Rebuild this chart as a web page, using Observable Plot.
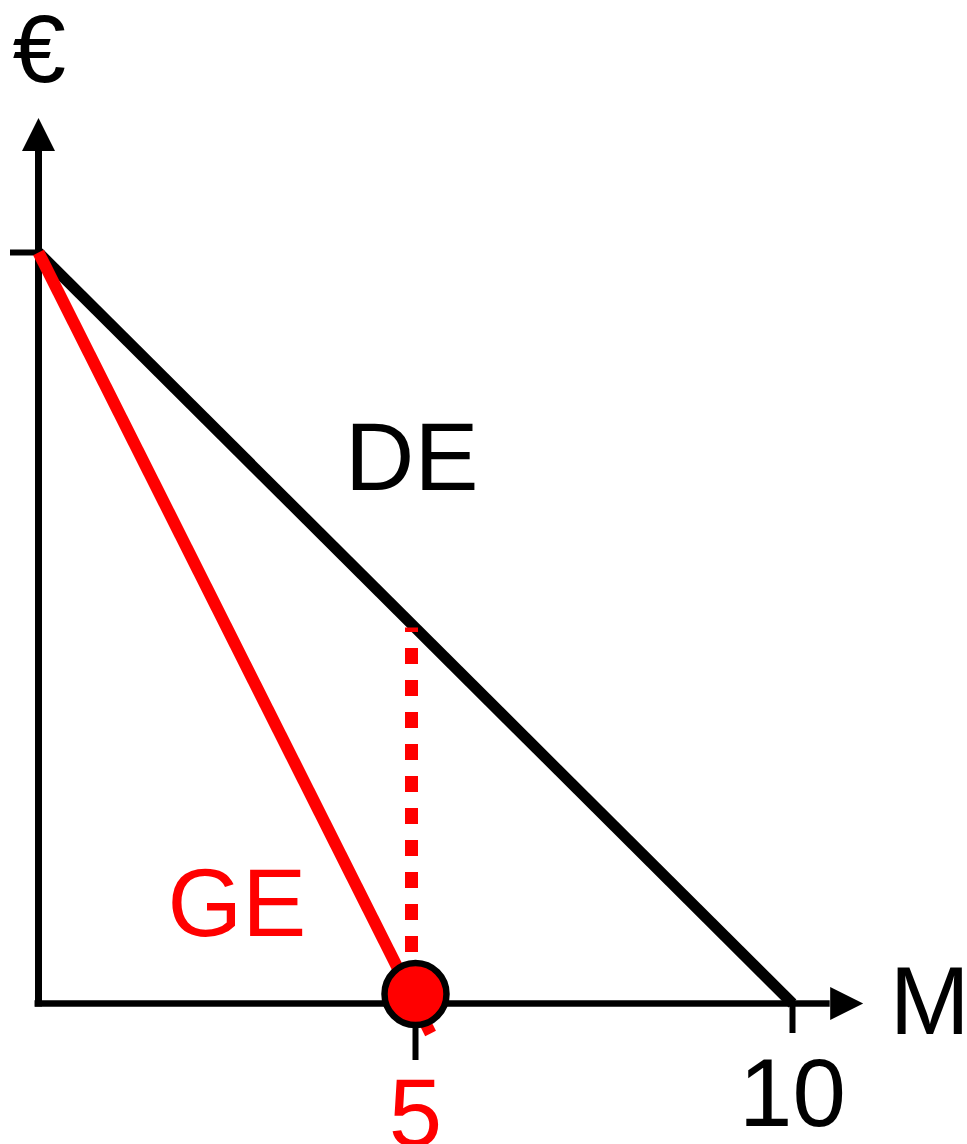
<!DOCTYPE html>
<html>
<head>
<meta charset="utf-8">
<script src="https://cdn.jsdelivr.net/npm/d3@7"></script>
<script src="https://cdn.jsdelivr.net/npm/@observablehq/plot@0.6"></script>
<style>
  html, body { margin: 0; padding: 0; background: #fff; }
</style>
</head>
<body>
<div id="chart"></div>
<script>
// ---- data ----
const deLine = [{x: 0, y: 10}, {x: 10, y: 0}];          // DE (black)
const geLine = [{x: 0, y: 10}, {x: 5.2, y: -0.4}];      // GE (red)
const equilibrium = [{x: 5, y: 0}];                      // red point
const dottedDrop = [{x: 5, yTop: 5, yBottom: 0}];        // from DE down to axis
const xAxisEnd = [{x: 10.5, y: 0}];
const yAxisEnd = [{x: 0, y: 11.35}];
const redTicks = [5];
const blackTicks = [10];
const yTicks = [10];
const labels = [
  {x: 4.95, y: 7.25, text: "DE", color: "black"},
  {x: 2.63, y: 1.31, text: "GE", color: "red"},
  {x: 11.82, y: 0.0, text: "M", color: "black"},
  {x: 0.01, y: 12.68, text: "€", color: "black"}
];

const arrowHead = {
  draw(context, size) {
    const r = Math.sqrt(size / Math.PI);
    context.moveTo(-r, 0);
    context.lineTo(0, -2 * r);
    context.lineTo(r, 0);
    context.closePath();
  }
};

const FS = 96;

const chart = Plot.plot({
  width: 967,
  height: 1144,
  marginLeft: 38,
  marginRight: 175,
  marginTop: 252,
  marginBottom: 141,
  style: {fontFamily: "'Liberation Sans', Arial, sans-serif", background: "white", overflow: "visible"},
  x: {domain: [0, 10], axis: null, label: null},
  y: {domain: [0, 10], axis: null, label: null},
  marks: [
    // ticks
    Plot.axisY(yTicks, {anchor: "left", tickSize: 28, tickFormat: () => "", strokeWidth: 6, stroke: "black", label: null}),
    Plot.axisX(redTicks, {anchor: "bottom", tickSize: 57, tickPadding: 17, fontSize: FS, fill: "red", stroke: "black", strokeWidth: 6, label: null}),
    Plot.axisX(blackTicks, {anchor: "bottom", tickSize: 30, tickPadding: 24, fontSize: FS, fill: "black", stroke: "black", strokeWidth: 6, label: null}),
    // axes lines
    Plot.ruleY([0], {x1: -0.046, x2: xAxisEnd[0].x, stroke: "black", strokeWidth: 6.5}),
    Plot.ruleX([0], {y1: -0.045, y2: yAxisEnd[0].y, stroke: "black", strokeWidth: 7}),
    Plot.dot(xAxisEnd, {x: "x", y: "y", symbol: arrowHead, r: 16.5, fill: "black", stroke: "none", rotate: 90}),
    Plot.dot(yAxisEnd, {x: "x", y: "y", symbol: arrowHead, r: 16.5, fill: "black", stroke: "none"}),
    // DE
    Plot.line(deLine, {x: "x", y: "y", stroke: "black", strokeWidth: 11, strokeLinecap: "butt"}),
    // dotted drop line
    Plot.ruleX(dottedDrop, {x: "x", y1: "yTop", y2: "yBottom", stroke: "red", strokeWidth: 13,
      strokeDasharray: "16,16", strokeDashoffset: 11.5, strokeLinecap: "butt", dx: -4}),
    // GE
    Plot.line(geLine, {x: "x", y: "y", stroke: "red", strokeWidth: 12, strokeLinecap: "butt"}),
    // equilibrium point
    Plot.dot(equilibrium, {x: "x", y: "y", r: 31, fill: "red", stroke: "black", strokeWidth: 6.5, dy: -9.5}),
    // labels
    Plot.text(labels, {x: "x", y: "y", text: "text", fill: "color", fontSize: FS, textAnchor: "middle"})
  ]
});

document.getElementById("chart").appendChild(chart);
</script>
</body>
</html>
